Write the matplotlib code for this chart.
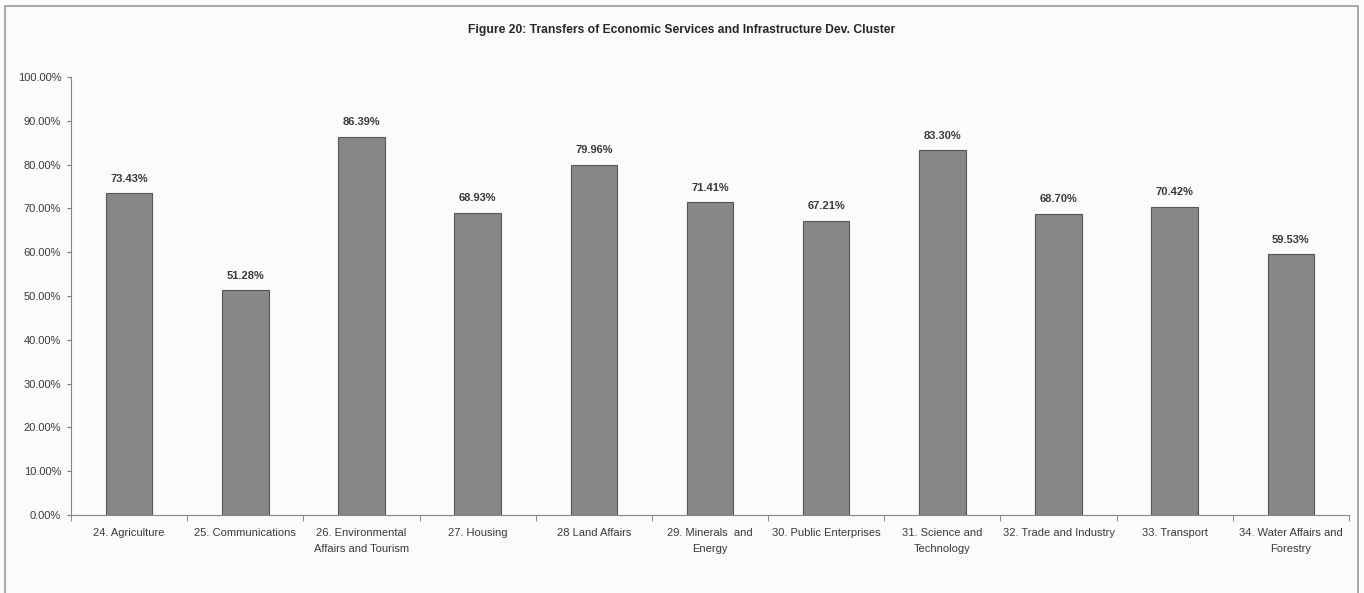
import matplotlib
matplotlib.use("Agg")
import matplotlib.pyplot as plt
from matplotlib.patches import Rectangle
from matplotlib.ticker import FuncFormatter, FixedLocator
import numpy as np

plt.rcParams['font.family'] = ['Liberation Sans', 'DejaVu Sans']

categories = ["24. Agriculture", "25. Communications", "26. Environmental\nAffairs and Tourism",
              "27. Housing", "28 Land Affairs", "29. Minerals  and\nEnergy", "30. Public Enterprises",
              "31. Science and\nTechnology", "32. Trade and Industry", "33. Transport",
              "34. Water Affairs and\nForestry"]
values = [73.43, 51.28, 86.39, 68.93, 79.96, 71.41, 67.21, 83.30, 68.70, 70.42, 59.53]
yticks = [0, 10, 20, 30, 40, 50, 60, 70, 80, 90, 100]
title = "Figure 20: Transfers of Economic Services and Infrastructure Dev. Cluster"

fig = plt.figure(figsize=(13.64, 5.93), dpi=100)
fig.patch.set_facecolor('#fbfbfb')

# outer frame
fig.patches.append(Rectangle((5/1364, -0.05), (1358-5)/1364, 1.05 - 6/593,
                             transform=fig.transFigure, fill=False,
                             edgecolor='#9a9a9a', linewidth=1.2))

ax = fig.add_axes([71/1364, 1-515/593, (1349-71)/1364, (515-77)/593])
ax.set_facecolor('none')
x = np.arange(len(categories))
ax.bar(x, values, width=0.40, color='#878787', edgecolor='#555555', linewidth=0.8)
for xi, v in zip(x, values):
    ax.text(xi, v + 2.2, f"{v:.2f}%", ha='center', va='bottom', fontsize=8,
            fontweight='bold', color='#3a3a3a')

ax.set_xlim(-0.5, len(categories) - 0.5)
ax.set_ylim(0, 100)
ax.set_yticks(yticks)
ax.yaxis.set_major_formatter(FuncFormatter(lambda v, p: f"{v:.2f}%"))
ax.set_xticks(x)
ax.set_xticklabels(categories, fontsize=8, color='#3a3a3a', linespacing=1.75)
ax.tick_params(axis='x', length=0, pad=9)
ax.xaxis.set_minor_locator(FixedLocator(np.arange(-0.5, len(categories), 1.0)))
ax.tick_params(axis='x', which='minor', length=4, direction='out', color='#777777')
ax.tick_params(axis='y', labelsize=8, labelcolor='#3a3a3a', length=3, pad=4, color='#777777')
for s in ['top', 'right']:
    ax.spines[s].set_visible(False)
ax.spines['left'].set_color('#888888')
ax.spines['bottom'].set_color('#888888')

fig.text(682/1364, 1-30/593, title, ha='center', va='center', fontsize=8.7,
         fontweight='bold', color='#262626')

fig.savefig("out.png", dpi=100, facecolor=fig.get_facecolor())
